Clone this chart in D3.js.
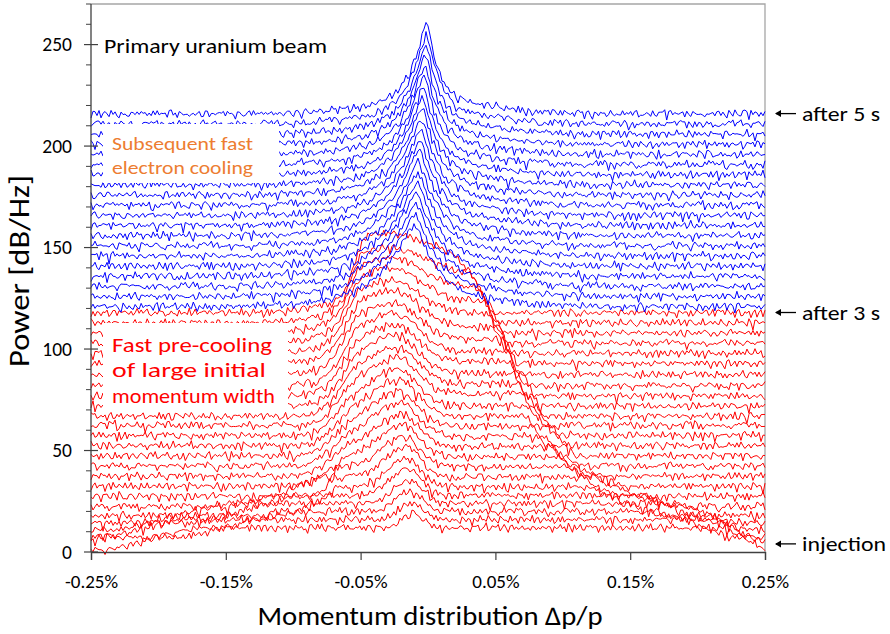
<!DOCTYPE html>
<html>
<head>
<meta charset="utf-8">
<script src="https://cdn.jsdelivr.net/npm/d3@7"></script>
<style>
  body { margin: 0; background: #fff; }
  svg { display: block; }
  text { font-family: Carlito, Lato, "Open Sans", sans-serif; }
</style>
</head>
<body>
<svg id="chart" width="890" height="634"></svg>
<script>
// ---------------- axis ticks ----------------
const xTicks = [-0.25, -0.15, -0.05, 0.05, 0.15, 0.25];
const yTicks = [0, 50, 100, 150, 200, 250];

// ---------------- red spectra: stochastic pre-cooling (injection -> 3 s) ----------------
// outline of the hot, wide momentum distribution (dp/p in %, level in dB)
const mountainX = [-0.25, -0.23, -0.20, -0.17, -0.14, -0.11, -0.09, -0.08, -0.072, -0.068, -0.064, -0.06,
                   -0.055, -0.05, -0.04, -0.03, -0.025, -0.02, -0.01, 0, 0.01, 0.02, 0.03, 0.04,
                   0.05, 0.06, 0.07, 0.08, 0.09, 0.10, 0.12, 0.14, 0.17, 0.20, 0.22, 0.25];
const mountainY = [0, 3, 8, 13, 18, 24, 29, 33, 40, 60, 90, 115,
                   133, 143, 150, 154, 155.5, 155.5, 154, 152, 150, 146, 139, 128,
                   112, 98, 82, 67, 55, 46, 35, 29, 22, 15, 10, 0];
// noise floor of each recorded spectrum (with its waterfall offset)
const redFloor   = [1, 4, 7.5, 11, 14.5, 18, 22.5, 27.5, 32.5, 37.5, 42.5, 47.5, 52.5, 57.5, 62.5, 67,
                    72, 77, 82, 87.5, 93, 98, 103, 108, 113, 118];
// level of the broad beam plateau inside the distribution
const redPlateau = [12, 16, 20, 24, 28, 32, 37, 42, 47, 52, 57, 62, 67, 72, 78, 83,
                    88, 94, 99, 105, 111, 118, 124, 130, 137, 146];
// top of the central peak
const redApex    = [19, 24, 30, 35, 41, 46, 52, 57, 63, 68, 74, 79, 85, 90, 96, 101,
                    107, 112, 118, 123, 129, 134, 140, 145, 150, 157];
const redPeakPos = [-0.011, -0.012, -0.013, -0.014, -0.015, -0.016, -0.017, -0.018, -0.019, -0.020,
                    -0.021, -0.022, -0.022, -0.023, -0.023, -0.024, -0.024, -0.025, -0.025, -0.026,
                    -0.026, -0.027, -0.027, -0.027, -0.028, -0.028];
const redLeftWidth  = [0.008, 0.010, 0.011, 0.012, 0.013, 0.014, 0.015, 0.016, 0.017, 0.018, 0.019, 0.020, 0.021,
                       0.022, 0.023, 0.024, 0.025, 0.026, 0.027, 0.028, 0.029, 0.030, 0.031, 0.032, 0.033, 0.034];
const redRightWidth = [0.007, 0.008, 0.009, 0.010, 0.010, 0.011, 0.011, 0.012, 0.012, 0.013, 0.013, 0.014, 0.014,
                       0.015, 0.015, 0.016, 0.016, 0.017, 0.017, 0.018, 0.019, 0.020, 0.021, 0.023, 0.025, 0.027];
// where the plateau starts to build up on the low-momentum side (-1: follows the outline)
const redRiseStart = [-1, -1, -1, -1, -1, -1, -1, -1, -0.105, -0.104, -0.102, -0.100, -0.098, -0.096, -0.094,
                      -0.092, -0.090, -0.088, -0.086, -0.084, -0.082, -0.080, -0.078, -0.076, -0.074, -0.072];
const redRiseEnd   = [-1, -1, -1, -1, -1, -1, -1, -1, -0.055, -0.055, -0.054, -0.054, -0.053, -0.053, -0.052,
                      -0.052, -0.051, -0.051, -0.050, -0.050, -0.049, -0.049, -0.048, -0.048, -0.047, -0.045];
// spread of the individual spectra around the common outline
const redEdgeLift  = [0, 5, -3, 7, 2, -5, 4, -2, 6, -4, 1, 3, -1, 5, -3, 2, 0, 4, -2, 3, -1, 2, 0, 1, -1, 0];
const redEdgeShift = [0.004, -0.003, 0.006, -0.005, 0.002, 0.007, -0.004, 0.003, -0.006, 0.005, -0.002, 0.006,
                      -0.005, 0.001, 0.004, -0.003, 0.005, -0.004, 0.002, -0.002, 0.003, -0.003, 0.002, -0.001, 0.001, 0];

// ---------------- blue spectra: electron cooling (3 s -> 5 s) ----------------
const blueFloor  = [121, 126, 131, 136, 141, 146, 151, 156, 161, 166, 171, 176, 181, 186, 191, 196, 201, 206, 211, 216];
const blueApex   = [162, 167, 172.5, 178, 183, 188, 193.5, 199, 204, 209, 214.5, 220, 225, 230, 235.5, 241, 246, 251, 256.5, 262];
const bluePeakPos = [-0.010, -0.0095, -0.009, -0.0085, -0.008, -0.0075, -0.007, -0.0065, -0.006, -0.0055,
                     -0.005, -0.0045, -0.004, -0.0035, -0.003, -0.0025, -0.002, -0.0015, -0.001, -0.001];
const blueCoreLeft  = [0.020, 0.0195, 0.019, 0.0185, 0.018, 0.0175, 0.017, 0.0165, 0.016, 0.0155,
                       0.015, 0.0145, 0.014, 0.0135, 0.013, 0.0125, 0.012, 0.0115, 0.011, 0.010];
const blueCoreRight = [0.013, 0.0127, 0.0124, 0.0121, 0.0118, 0.0115, 0.0112, 0.0109, 0.0106, 0.0103,
                       0.010, 0.0097, 0.0094, 0.0091, 0.0088, 0.0085, 0.0082, 0.0079, 0.0076, 0.007];
const bluePedestal      = [16, 16, 16, 15.5, 15.5, 15.5, 15, 15, 15, 15, 14.5, 14.5, 14.5, 14, 14, 14, 14, 14, 14, 14];
const bluePedestalWidth = [0.040, 0.040, 0.039, 0.039, 0.038, 0.038, 0.037, 0.037, 0.037, 0.036,
                           0.036, 0.036, 0.035, 0.035, 0.035, 0.035, 0.035, 0.035, 0.035, 0.035];

// normalised line shapes: distance in widths -> fraction of height
const coolU = [0, 0.2, 0.4, 0.6, 0.8, 1.0, 1.3, 1.6, 2.0, 2.5, 3.0, 3.5];
const coolV = [1, 0.88, 0.74, 0.60, 0.49, 0.40, 0.29, 0.20, 0.12, 0.06, 0.02, 0];
const humpU = [0, 0.25, 0.5, 0.75, 1.0, 1.25, 1.5, 1.75, 2.0, 2.5, 3.0];
const humpV = [1, 0.97, 0.88, 0.75, 0.60, 0.46, 0.32, 0.21, 0.13, 0.04, 0];

// recorded Schottky noise pattern (dB), reused along every spectrum
const noiseA = [0.4, -0.3, 0.9, -0.8, 0.2, 1.1, -0.5, -1.9, 0.3, 0.7, -0.2, 0.5, -1.1, 0.8, 0.1, -0.6, 1.2,
                -0.3, -2.4, 0.6, 0.2, -0.9, 0.9, 0.4, -0.4, -1.3, 0.7, 1.0, -0.1, -0.7, 0.3, -1.6, 0.5, 0.8,
                -0.2, 0.2, -1.0, 1.3, 0.0, -0.5, 0.6, -2.1, 0.4, 0.9, -0.8, 0.1, 0.5, -0.3, 1.0, -1.2, 0.2,
                0.7, -0.6, -0.1, 1.1, -1.7, 0.3, 0.6, -0.4, 0.8, -0.9, 0.2, -0.2, 1.2, -1.4, 0.5, -0.1];
const noiseB = [-0.5, 0.8, 0.1, -1.2, 0.6, -0.2, 1.0, -0.7, 0.3, -1.8, 0.9, 0.2, -0.4, 0.7, -1.0, 0.4, -0.1,
                1.1, -0.6, -1.4, 0.5, 0.8, -0.3, 0.2, -0.9, 1.2, -0.5, 0.0, 0.6, -2.0, 0.7, 0.3, -0.8, 0.9,
                -0.2, 0.4, -1.1, 0.6, 0.1, -0.4, 0.8];
const noiseC = [0.6, -1.1, 0.2, 0.9, -0.4, -2.2, 0.5, 0.1, -0.7, 1.0, 0.3, -0.9, 0.7, -0.2, -1.5, 0.8, 0.4,
                -0.6, 1.1, -0.3, 0.2, -1.8, 0.6, 0.9, -0.5, 0.0, 1.2, -0.8, 0.3];

const nSamples = 337;

// ---------------- layout ----------------
const svg = d3.select("#chart");
const plot = { left: 91, right: 765, top: 4, bottom: 552 };
const x = d3.scaleLinear().domain([-0.25, 0.25]).range([plot.left, plot.right]);
const y = d3.scaleLinear().domain([0, 270]).range([plot.bottom, plot.top]);

const mountain = d3.scaleLinear().domain(mountainX).range(mountainY).clamp(true);
const cool = d3.scaleLinear().domain(coolU).range(coolV).clamp(true);
const hump = d3.scaleLinear().domain(humpU).range(humpV).clamp(true);
const grid = d3.range(nSamples).map(i => -0.25 + 0.5 * i / (nSamples - 1));

function noise(i, t) {
  const a = noiseA[(i + 29 * t) % noiseA.length];
  const b = noiseB[(i * (2 + t % 3) + 13 * t) % noiseB.length];
  const c = noiseC[(i * (1 + t % 4) + 7 * t) % noiseC.length];
  return 0.85 * a + 0.7 * b + 0.65 * c;
}

function redLevel(k, xv) {
  const d = xv - redPeakPos[k];
  const w = d < 0 ? redLeftWidth[k] : redRightWidth[k];
  const bump = (redApex[k] - redPlateau[k]) * hump(Math.abs(d) / w);
  const ownRise = redRiseStart[k] > -1;
  // plateau builds up smoothly on the low-momentum side
  let frac = 1;
  if (ownRise && xv < redRiseEnd[k]) {
    frac = hump(3 * (redRiseEnd[k] - xv) / (redRiseEnd[k] - redRiseStart[k]));
  }
  const level = redFloor[k] + (redPlateau[k] - redFloor[k]) * frac + bump;
  // the wide outline limits the early spectra on both sides, the later ones only on the high side
  const edge = (ownRise && xv < 0) ? Infinity : mountain(xv - redEdgeShift[k]) + redEdgeLift[k];
  return Math.max(redFloor[k], Math.min(edge, level));
}

function blueLevel(k, xv) {
  const d = xv - bluePeakPos[k];
  const w = d < 0 ? blueCoreLeft[k] : blueCoreRight[k];
  const core = blueApex[k] - blueFloor[k] - bluePedestal[k];
  return blueFloor[k] + core * cool(Math.abs(d) / w) +
         bluePedestal[k] * cool(Math.abs(d) / bluePedestalWidth[k]);
}

const line = d3.line().x(d => x(d[0])).y(d => y(d[1]));

// frame (top / right in grey)
svg.append("path")
  .attr("d", `M${plot.left},${plot.top}H${plot.right}V${plot.bottom}`)
  .attr("fill", "none").attr("stroke", "#a6a6a6").attr("stroke-width", 1.3);

const traces = svg.append("g");
redFloor.forEach((f, k) => {
  const pts = grid.map((xv, i) => [xv, redLevel(k, xv) + noise(i, k)]);
  traces.append("path").attr("d", line(pts))
    .attr("fill", "none").attr("stroke", "#ff0000").attr("stroke-width", 1).attr("stroke-linejoin", "round");
});
blueFloor.forEach((f, k) => {
  const pts = grid.map((xv, i) => [xv, blueLevel(k, xv) + noise(i, k + 40)]);
  traces.append("path").attr("d", line(pts))
    .attr("fill", "none").attr("stroke", "#0000ff").attr("stroke-width", 1).attr("stroke-linejoin", "round");
});

// ---------------- axes ----------------
const axisColor = "#404040";
const yAxis = svg.append("g");
yAxis.append("line").attr("x1", plot.left).attr("x2", plot.left)
  .attr("y1", plot.top).attr("y2", plot.bottom).attr("stroke", axisColor).attr("stroke-width", 1.3);
d3.range(0, 271, 10).filter(v => v % 50 !== 0).forEach(v => {
  yAxis.append("line").attr("x1", plot.left - 5).attr("x2", plot.left)
    .attr("y1", y(v)).attr("y2", y(v)).attr("stroke", axisColor).attr("stroke-width", 1);
});
yTicks.forEach(v => {
  yAxis.append("line").attr("x1", plot.left - 7).attr("x2", plot.left + 7)
    .attr("y1", y(v)).attr("y2", y(v)).attr("stroke", axisColor).attr("stroke-width", 1.2);
  yAxis.append("text").attr("x", plot.left - 19).attr("y", y(v)).attr("dy", "0.35em")
    .attr("text-anchor", "end").attr("font-size", 19.5).attr("fill", "#000").text(v);
});

const xAxis = svg.append("g").attr("transform", `translate(0,${plot.bottom})`)
  .call(d3.axisBottom(x).tickValues(xTicks).tickSize(8).tickPadding(15)
        .tickFormat(d => d.toFixed(2) + "%"));
xAxis.select(".domain").attr("stroke", axisColor).attr("stroke-width", 1.3);
xAxis.selectAll(".tick line").attr("stroke", axisColor).attr("stroke-width", 1.2);
xAxis.selectAll(".tick text").attr("font-size", 19).attr("fill", "#000")
  .attr("font-family", "Carlito, Lato, 'Open Sans', sans-serif");

// axis titles
svg.append("text").attr("transform", "translate(29,271) rotate(-90)")
  .attr("text-anchor", "middle").attr("font-size", 28).attr("fill", "#000")
  .attr("textLength", 192).attr("lengthAdjust", "spacingAndGlyphs").text("Power [dB/Hz]");
svg.append("text").attr("x", 430).attr("y", 625)
  .attr("text-anchor", "middle").attr("font-size", 27).attr("fill", "#000")
  .attr("textLength", 345).attr("lengthAdjust", "spacingAndGlyphs").text("Momentum distribution \u2206p/p");

// ---------------- annotations ----------------
function label(txt, x0, yc, size, color, width) {
  const t = svg.append("text").attr("x", x0).attr("y", yc).attr("dy", "0.35em")
    .attr("font-size", size).attr("fill", color).text(txt);
  if (width) t.attr("textLength", width).attr("lengthAdjust", "spacingAndGlyphs");
  return t;
}

svg.append("rect").attr("x", 103).attr("y", 124).attr("width", 176).attr("height", 59).attr("fill", "#fff");
svg.append("rect").attr("x", 103).attr("y", 323).attr("width", 185).attr("height", 89).attr("fill", "#fff");

label("Primary uranium beam", 104, 46, 20, "#000", 223);
label("Subsequent fast", 112, 143, 19, "#ed7d31", 141);
label("electron cooling", 112, 167, 19, "#ed7d31", 141);
label("Fast pre-cooling", 112, 345, 20, "#ff0000", 160);
label("of large initial", 112, 370, 20, "#ff0000", 154);
label("momentum width", 112, 396, 20, "#ff0000", 163);

const notes = [["after 5 s", 216, 78], ["after 3 s", 118, 78], ["injection", 4, 84]];
notes.forEach(([txt, v, wd]) => {
  const yy = y(v);
  svg.append("path").attr("d", `M776,${yy}H796`).attr("stroke", "#000").attr("stroke-width", 1.3);
  svg.append("path").attr("d", `M775,${yy}l6,-3.5v7z`).attr("fill", "#000");
  svg.append("text").attr("x", 802).attr("y", yy).attr("dy", "0.35em")
    .attr("font-size", 21).attr("fill", "#000")
    .attr("textLength", wd).attr("lengthAdjust", "spacingAndGlyphs").text(txt);
});
</script>
</body>
</html>
